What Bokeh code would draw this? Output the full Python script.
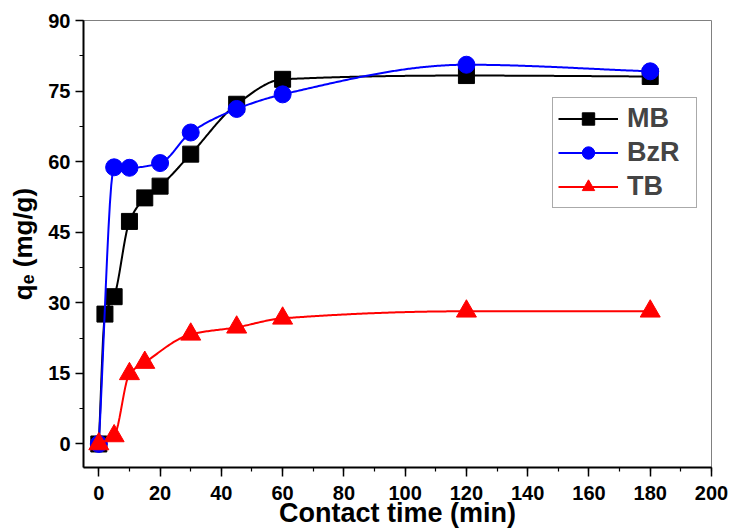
import numpy as np
from bokeh.plotting import figure
from bokeh.models import Range1d, SingleIntervalTicker, Legend, LegendItem
from bokeh.embed import file_html
from bokeh.resources import INLINE

# ---- data ----
mb_t = [0, 2, 5, 10, 15, 20, 30, 45, 60, 120, 180]
mb_q = [0, 27.6, 31.3, 47.3, 52.3, 54.8, 61.6, 72.2, 77.5, 78.3, 78.1]

bzr_t = [0, 5, 10, 20, 30, 45, 60, 120, 180]
bzr_q = [0, 58.8, 58.7, 59.7, 66.2, 71.2, 74.3, 80.6, 79.2]

tb_t = [0, 5, 10, 15, 30, 45, 60, 120, 180]
tb_q = [0, 1.7, 14.9, 17.3, 23.3, 24.8, 26.7, 28.2, 28.2]

x_label = "Contact time (min)"
y_label = "qₑ (mg/g)"


def pchip(x, y, n=400):
    x = np.asarray(x, float)
    y = np.asarray(y, float)
    h = np.diff(x)
    d = np.diff(y) / h
    m = np.zeros(len(x))
    m[0] = d[0]
    m[-1] = d[-1]
    for k in range(1, len(x) - 1):
        if d[k - 1] * d[k] <= 0:
            m[k] = 0.0
        else:
            w1 = 2 * h[k] + h[k - 1]
            w2 = h[k] + 2 * h[k - 1]
            m[k] = (w1 + w2) / (w1 / d[k - 1] + w2 / d[k])
    xs = np.linspace(x[0], x[-1], n)
    idx = np.clip(np.searchsorted(x, xs) - 1, 0, len(x) - 2)
    t = (xs - x[idx]) / h[idx]
    h00 = 2 * t**3 - 3 * t**2 + 1
    h10 = t**3 - 2 * t**2 + t
    h01 = -2 * t**3 + 3 * t**2
    h11 = t**3 - t**2
    ys = h00 * y[idx] + h10 * h[idx] * m[idx] + h01 * y[idx + 1] + h11 * h[idx] * m[idx + 1]
    return xs, ys


FONT = "Liberation Sans"

W, H = 730, 531
p = figure(width=W, height=H, output_backend="svg", toolbar_location=None,
           x_range=Range1d(-5, 200), y_range=Range1d(-5, 90),
           min_border_left=83, min_border_right=19, min_border_top=20, min_border_bottom=64)

p.grid.visible = False
p.outline_line_color = "#808080"
p.outline_line_width = 1
p.background_fill_color = "white"
p.border_fill_color = "white"

series = [
    ("MB", mb_t, mb_q, "black", "square", 16),
    ("BzR", bzr_t, bzr_q, "blue", "circle", 17),
    ("TB", tb_t, tb_q, "red", "triangle", 20),
]

items = []
for name, t, q, col, mk, sz in series:
    xs, ys = pchip(t, q)
    ln = p.line(xs, ys, line_color=col, line_width=2)
    sc = p.scatter(t, q, marker=mk, size=sz, fill_color=col, line_color=col)
    items.append(LegendItem(label=name, renderers=[ln, sc]))

legend = Legend(items=items, location=(469, 259))
legend.label_text_font = FONT
legend.label_text_font_style = "bold"
legend.label_text_font_size = "27px"
legend.border_line_color = "#555555"
legend.border_line_width = 1
legend.glyph_width = 60
legend.glyph_height = 31
legend.label_height = 31
legend.label_width = 64
legend.spacing = 3
legend.padding = 5
legend.label_standoff = 9
legend.background_fill_alpha = 1
p.add_layout(legend)

p.xaxis.ticker = SingleIntervalTicker(interval=20, num_minor_ticks=2)
p.yaxis.ticker = SingleIntervalTicker(interval=15, num_minor_ticks=2)

for ax in (p.xaxis, p.yaxis):
    ax.axis_line_color = "black"
    ax.axis_line_width = 2
    ax.major_tick_in = 0
    ax.major_tick_out = 8
    ax.minor_tick_in = 0
    ax.minor_tick_out = 4
    ax.major_tick_line_width = 1.5
    ax.minor_tick_line_width = 1.2
    ax.major_label_text_font = FONT
    ax.major_label_text_font_style = "bold"
    ax.major_label_text_font_size = "20px"
    ax.major_label_text_color = "black"
    ax.axis_label_text_font = FONT
    ax.axis_label_text_font_style = "bold"
    ax.axis_label_text_color = "black"

p.xaxis.major_tick_out = 9
p.xaxis.major_label_standoff = 9
p.xaxis.axis_label = x_label
p.xaxis.axis_label_text_font_size = "27px"
p.xaxis.axis_label_standoff = -5

p.yaxis.major_label_standoff = 5
p.yaxis.axis_label = y_label
p.yaxis.axis_label_text_font_size = "26px"
p.yaxis.axis_label_standoff = 7

open("out.html", "w").write(file_html(p, INLINE))
